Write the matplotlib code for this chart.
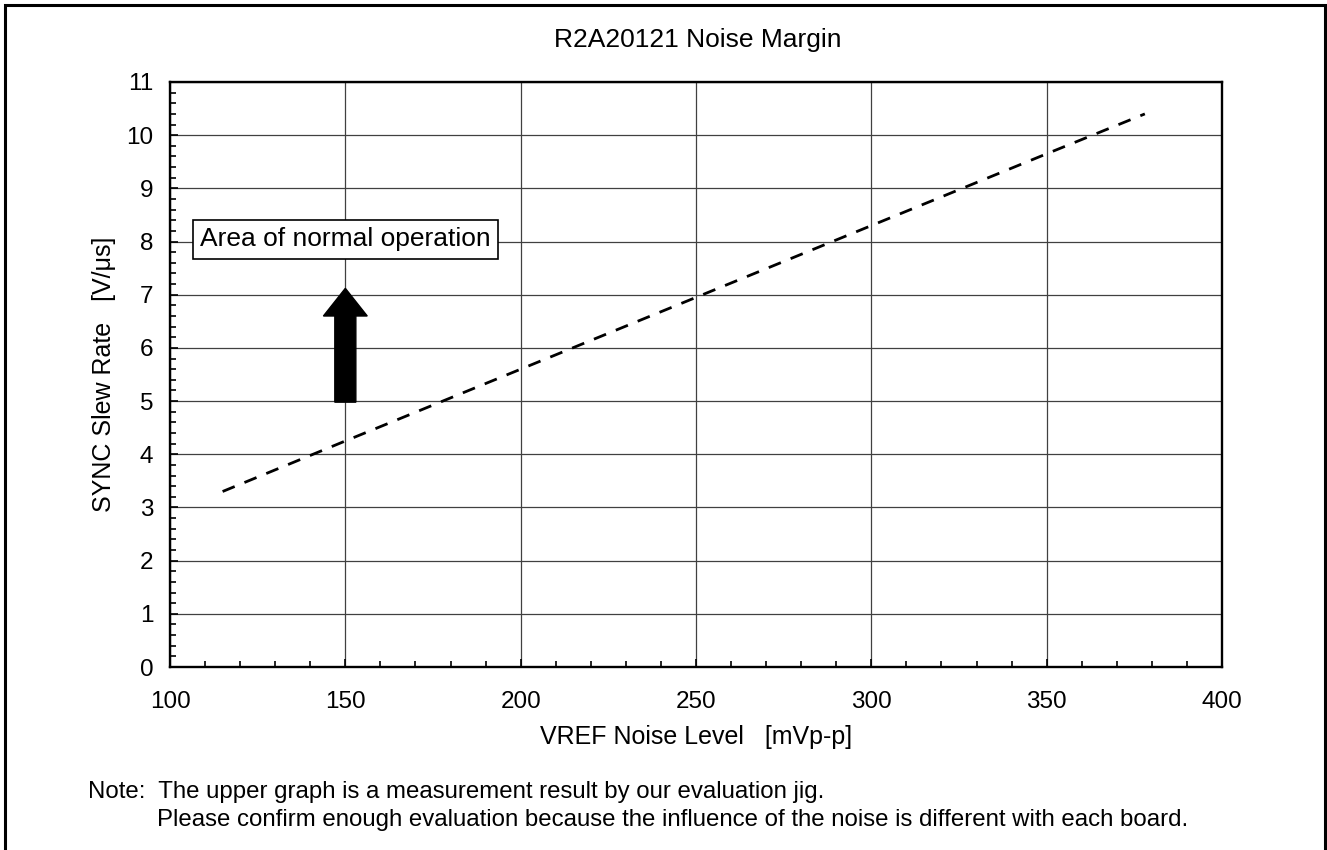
import matplotlib
matplotlib.use("Agg")
import matplotlib.pyplot as plt
from matplotlib.patches import Rectangle
from matplotlib.ticker import MultipleLocator

plt.rcParams['font.family'] = ['Liberation Sans', 'DejaVu Sans']

noise_level = [115, 150, 200, 250, 300, 350, 378]
slew_rate = [3.3, 4.25, 5.6, 6.95, 8.3, 9.65, 10.4]

title = "R2A20121 Noise Margin"
xlabel = "VREF Noise Level   [mVp-p]"
ylabel = "SYNC Slew Rate   [V/\u03bcs]"
area_label = "Area of normal operation"
note_1 = "Note:  The upper graph is a measurement result by our evaluation jig."
note_2 = "Please confirm enough evaluation because the influence of the noise is different with each board."

fig = plt.figure(figsize=(13.27, 8.5), dpi=100)
ax = fig.add_axes([170 / 1327, 1 - 667 / 850, 1052 / 1327, 585 / 850])

ax.plot(noise_level, slew_rate, color='black', lw=2.0, dashes=(4.7, 3.8))

ax.set_xlim(100, 400)
ax.set_ylim(0, 11)
ax.xaxis.set_major_locator(MultipleLocator(50))
ax.xaxis.set_minor_locator(MultipleLocator(10))
ax.yaxis.set_major_locator(MultipleLocator(1))
ax.yaxis.set_minor_locator(MultipleLocator(0.2))
ax.tick_params(which='both', direction='in', labelsize=17.5, width=1.2)
ax.tick_params(which='major', length=6)
ax.tick_params(which='minor', length=4.5)
ax.tick_params(axis='x', which='major', pad=17)
ax.tick_params(axis='y', which='major', pad=12)
ax.grid(True, which='major', color='0.25', lw=0.9)
for s in ax.spines.values():
    s.set_linewidth(1.7)

ax.set_xlabel(xlabel, fontsize=18, labelpad=9)
ax.set_ylabel(ylabel, fontsize=18, labelpad=7)

# arrow and label for the normal-operation region
ax.arrow(150, 4.98, 0, 2.14, width=6.0, head_width=12.5, head_length=0.52,
         length_includes_head=True, fc='black', ec='black', zorder=3)
ax.text(150, 8.04, area_label, ha='center', va='center', fontsize=19, zorder=4,
        bbox=dict(boxstyle='square,pad=0.28', fc='white', ec='black', lw=1.2))

fig.text(0.5255, 1 - 40 / 850, title, ha='center', va='center', fontsize=19)
fig.text(88 / 1327, 1 - 792 / 850, note_1, ha='left', va='center', fontsize=17.3)
fig.text(157 / 1327, 1 - 820 / 850, note_2, ha='left', va='center', fontsize=17.3)

fig.patches.append(Rectangle((5 / 1327, -0.05), 1320 / 1327, 1.05 - 5 / 850,
                             transform=fig.transFigure, fill=False,
                             ec='black', lw=2.2, clip_on=False))

fig.savefig("out.png", dpi=100)
